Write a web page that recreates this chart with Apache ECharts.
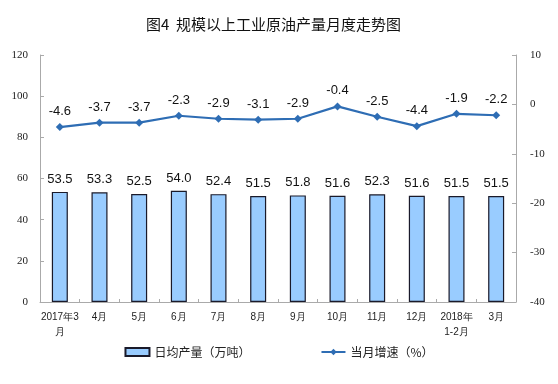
<!DOCTYPE html>
<html><head><meta charset="utf-8">
<script src="https://cdn.jsdelivr.net/npm/echarts@6/dist/echarts.min.js"></script>
<style>html,body{margin:0;padding:0;background:#fff}#c{width:558px;height:384px}</style>
</head><body><div id="c"></div>
<script>
const categories = ['2017年3\n月','4月','5月','6月','7月','8月','9月','10月','11月','12月','2018年\n1-2月','3月'];
const output = [53.5,53.3,52.5,54.0,52.4,51.5,51.8,51.6,52.3,51.6,51.5,51.5];
const growth = [-4.6,-3.7,-3.7,-2.3,-2.9,-3.1,-2.9,-0.4,-2.5,-4.4,-1.9,-2.2];
const leftTicks = [0,20,40,60,80,100,120];
const rightTicks = [-40,-30,-20,-10,0,10];

const chart = echarts.init(document.getElementById('c'));
const axisFont = {fontFamily:'Liberation Serif', fontSize:11, color:'#222'};
chart.setOption({
  animation:false,
  title:{text:'图4  规模以上工业原油产量月度走势图', left:141, top:12,
    textStyle:{fontFamily:'Noto Sans CJK SC', fontSize:15, fontWeight:'normal', color:'#111'}},
  grid:{left:40, right:42, top:55, bottom:82},
  legend:{bottom:21, left:'center', itemGap:70, itemWidth:24, itemHeight:8,
    textStyle:{fontFamily:'Noto Sans CJK SC', fontSize:12, color:'#222'},
    data:[{name:'日均产量（万吨）', icon:'rect'},{name:'当月增速（%）'}]},
  xAxis:{type:'category', data:categories,
    axisLine:{lineStyle:{color:'#aaa'}},
    axisTick:{show:true, inside:true, length:3, lineStyle:{color:'#aaa'}},
    axisLabel:{fontFamily:'Liberation Sans', fontSize:10, color:'#222', interval:0, lineHeight:15}},
  yAxis:[
    {type:'value', min:0, max:120, interval:20, splitLine:{show:false},
      axisLine:{show:true, lineStyle:{color:'#aaa'}},
      axisTick:{show:true, inside:true, length:4, lineStyle:{color:'#aaa'}},
      axisLabel:Object.assign({margin:12}, axisFont)},
    {type:'value', min:-40, max:10, interval:10, splitLine:{show:false},
      axisLine:{show:true, lineStyle:{color:'#aaa'}},
      axisTick:{show:true, inside:true, length:4, lineStyle:{color:'#aaa'}},
      axisLabel:Object.assign({margin:14}, axisFont)}
  ],
  series:[
    {name:'日均产量（万吨）', type:'bar', data:output, barWidth:16,
      itemStyle:{color:'#99CCFF', borderColor:'#1a1a2a', borderWidth:1.2},
      label:{show:true, position:'top', distance:6, formatter:p=>p.value.toFixed(1),
        fontFamily:'Liberation Sans', fontSize:13, color:'#111'}},
    {name:'当月增速（%）', type:'line', yAxisIndex:1, data:growth,
      symbol:'diamond', symbolSize:8,
      lineStyle:{color:'#2E6DB4', width:2.2}, itemStyle:{color:'#2E6DB4'},
      label:{show:true, position:'top', distance:5, formatter:p=>p.value.toFixed(1),
        fontFamily:'Liberation Sans', fontSize:13, color:'#111'}}
  ]
});
</script></body></html>
